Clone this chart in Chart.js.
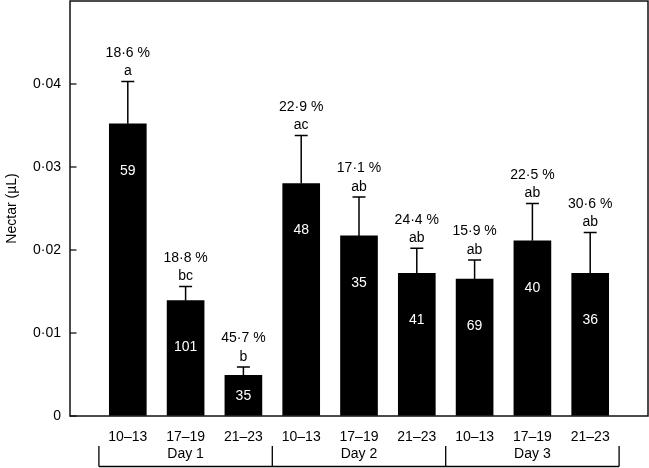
<!DOCTYPE html>
<html>
<head>
<meta charset="utf-8">
<script src="https://cdn.jsdelivr.net/npm/chart.js@4/dist/chart.umd.min.js"></script>
<style>
  html, body { margin: 0; padding: 0; background: #fff; }
  #wrap { width: 649px; height: 468px; }
</style>
</head>
<body>
<div id="wrap"><canvas id="chart"></canvas></div>
<script>
// time windows per bar, grouped by day
const categories = ['10–13', '17–19', '21–23', '10–13', '17–19', '21–23', '10–13', '17–19', '21–23'];
const dayLabels = ['Day 1', 'Day 2', 'Day 3'];
const nectarMean = [0.0352, 0.0139, 0.0049, 0.0280, 0.0217, 0.0172, 0.0165, 0.0211, 0.0172];
const nectarErrTop = [0.0403, 0.0156, 0.0059, 0.0338, 0.0264, 0.0202, 0.0188, 0.0256, 0.0221];
const sampleN = ['59', '101', '35', '48', '35', '41', '69', '40', '36'];
const percentLabels = ['18·6 %', '18·8 %', '45·7 %', '22·9 %', '17·1 %', '24·4 %', '15·9 %', '22·5 %', '30·6 %'];
const letterLabels = ['a', 'bc', 'b', 'ac', 'ab', 'ab', 'ab', 'ab', 'ab'];
const yTickValues = [0, 0.01, 0.02, 0.03, 0.04];
const yTickLabels = ['0', '0·01', '0·02', '0·03', '0·04'];

const FONT = "'Liberation Sans', Arial, sans-serif";

// one empty slot on each side so bars sit like the original
const labels = ['', ...categories, ''];
const padded = arr => [null, ...arr, null];

// stop chart.js reserving room for edge labels
function noPadding(scale) {
  scale.paddingTop = 0;
  scale.paddingBottom = 0;
  scale.paddingLeft = 0;
  scale.paddingRight = 0;
}

const annotations = {
  id: 'annotations',
  afterDatasetsDraw(chart) {
    const { ctx, chartArea: a, scales: { x, y } } = chart;
    ctx.save();
    ctx.strokeStyle = '#000';
    ctx.fillStyle = '#000';
    ctx.font = `14px ${FONT}`;
    ctx.textAlign = 'center';
    ctx.textBaseline = 'middle';

    // error bars (upper half only) + labels
    nectarMean.forEach((m, i) => {
      const px = x.getPixelForValue(i + 1);
      const top = y.getPixelForValue(nectarErrTop[i]);
      ctx.lineWidth = 1.5;
      ctx.beginPath();
      ctx.moveTo(px, y.getPixelForValue(m));
      ctx.lineTo(px, top);
      ctx.moveTo(px - 6.5, top);
      ctx.lineTo(px + 6.5, top);
      ctx.stroke();

      ctx.fillStyle = '#000';
      ctx.fillText(letterLabels[i], px, top - 10);
      ctx.fillText(percentLabels[i], px, top - 28.5);

      // n inside the bar
      const barTop = y.getPixelForValue(m);
      const h = y.getPixelForValue(0) - barTop;
      ctx.fillStyle = '#fff';
      ctx.fillText(sampleN[i], px, barTop + Math.min(47, h / 2));
    });

    // inward y ticks
    ctx.lineWidth = 1.2;
    yTickValues.forEach(v => {
      const py = y.getPixelForValue(v);
      ctx.beginPath();
      ctx.moveTo(a.left, py);
      ctx.lineTo(a.left + 6.5, py);
      ctx.stroke();
    });

    // frame
    ctx.lineWidth = 1.5;
    ctx.strokeStyle = '#111';
    ctx.strokeRect(a.left, a.top, a.right - a.left, a.bottom - a.top);

    // day brackets
    ctx.strokeStyle = '#000';
    ctx.lineWidth = 1.3;
    const lineY = 466.5, tickTop = 446;
    ctx.beginPath();
    ctx.moveTo(x.getPixelForValue(0.5), lineY);
    ctx.lineTo(x.getPixelForValue(9.5), lineY);
    for (let g = 0; g <= dayLabels.length; g++) {
      const gx = x.getPixelForValue(0.5 + g * 3);
      ctx.moveTo(gx, tickTop);
      ctx.lineTo(gx, lineY);
    }
    ctx.stroke();

    ctx.fillStyle = '#000';
    dayLabels.forEach((d, g) => {
      ctx.fillText(d, x.getPixelForValue(2 + g * 3), 454);
    });
    ctx.restore();
  }
};

new Chart(document.getElementById('chart'), {
  type: 'bar',
  data: {
    labels,
    datasets: [{
      data: padded(nectarMean),
      backgroundColor: '#000',
      borderWidth: 0,
      barThickness: 37,
    }],
  },
  options: {
    responsive: true,
    maintainAspectRatio: false,
    animation: false,
    layout: { padding: { top: 1, right: 1, left: 0, bottom: 0 } },
    plugins: { legend: { display: false }, tooltip: { enabled: false } },
    scales: {
      x: {
        offset: false,
        grid: { display: false, drawTicks: false },
        border: { display: false },
        ticks: {
          autoSkip: false,
          maxRotation: 0,
          padding: 13,
          color: '#000',
          font: { family: FONT, size: 14 },
        },
        afterFit: (scale) => { scale.height = 52; noPadding(scale); },
      },
      y: {
        min: 0,
        max: 0.05,
        grid: { drawOnChartArea: false, drawTicks: false },
        border: { display: false },
        afterBuildTicks: (scale) => { scale.ticks = yTickValues.map(v => ({ value: v })); },
        ticks: {
          padding: 9,
          color: '#000',
          font: { family: FONT, size: 14 },
          callback: (v) => yTickLabels[yTickValues.indexOf(v)] ?? '',
        },
        title: {
          display: true,
          text: 'Nectar (µL)',
          color: '#000',
          font: { family: FONT, size: 14 },
        },
        afterFit: (scale) => { scale.width = 70; noPadding(scale); },
      },
    },
  },
  plugins: [annotations],
});
</script>
</body>
</html>
